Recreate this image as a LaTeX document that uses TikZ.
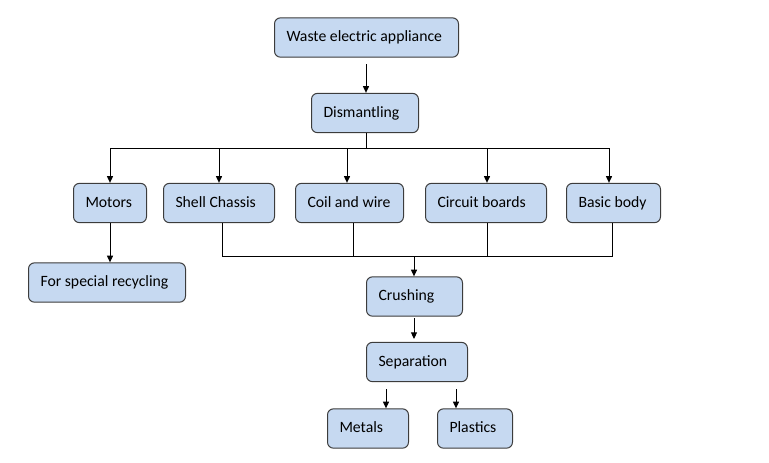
\documentclass[tikz,border=0pt]{standalone}
\usepackage{fontspec}
\setmainfont{Carlito}
\usetikzlibrary{arrows.meta}
\definecolor{boxfill}{HTML}{C6D9F1}
\definecolor{boxline}{HTML}{3C3C3C}
\newcommand\bxtxt[2]{\makebox[#1][l]{#2}}
\tikzset{
  box/.style={draw=boxline, fill=boxfill, line width=0.75pt, rounded corners=4.5pt,
    minimum height=29.5pt, text height=8.6pt, text depth=2.2pt,
    inner xsep=9pt, inner ysep=0pt, anchor=west,
    font=\fontsize{11.8pt}{14pt}\selectfont},
  conn/.style={line width=0.75pt, black},
  arr/.style={conn, -{Triangle[length=5pt,width=4.5pt]}}
}
\begin{document}
\begin{tikzpicture}[x=0.75pt,y=-0.75pt]
\useasboundingbox (0,0) rectangle (769,462);
% boxes
\node[box] (waste) at (274,37.5) {\bxtxt{120pt}{Waste electric appliance}};
\node[box] (dism) at (311,113) {\bxtxt{62.25pt}{Dismantling}};
\node[box] (motors) at (73,203) {\bxtxt{36.75pt}{Motors}};
\node[box] (shell) at (163,203) {\bxtxt{65.25pt}{Shell Chassis}};
\node[box] (coil) at (295,203) {\bxtxt{63pt}{Coil and wire}};
\node[box] (circuit) at (425,203) {\bxtxt{72.75pt}{Circuit boards}};
\node[box] (basic) at (566,203) {\bxtxt{52.5pt}{Basic body}};
\node[box] (special) at (28,282.5) {\bxtxt{99.75pt}{For special recycling}};
\node[box] (crush) at (366,296.5) {\bxtxt{54pt}{Crushing}};
\node[box] (sep) at (366,362) {\bxtxt{57.75pt}{Separation}};
\node[box] (metals) at (327,428.5) {\bxtxt{42.75pt}{Metals}};
\node[box] (plastics) at (437,428.5) {\bxtxt{38.25pt}{Plastics}};
% top arrow
\coordinate (wa) at (366,64);
\draw[arr] (wa) -- (wa |- dism.north);
% distribution bar
\coordinate (dtop) at (366,133);
\coordinate (bar) at (366,148);
\coordinate (bm) at (110,148);
\coordinate (bs) at (219,148);
\coordinate (bc) at (347,148);
\coordinate (bi) at (487,148);
\coordinate (bb) at (609,148);
\draw[conn] (dtop |- dism.south) -- (bar);
\draw[conn] (bm) -- (bb);
\draw[arr] (bm) -- (bm |- motors.north);
\draw[arr] (bs) -- (bs |- shell.north);
\draw[arr] (bc) -- (bc |- coil.north);
\draw[arr] (bi) -- (bi |- circuit.north);
\draw[arr] (bb) -- (bb |- basic.north);
% motors to special
\draw[arr] (bm |- motors.south) -- (bm |- special.north);
% collector bar
\coordinate (cs) at (222,256);
\coordinate (cc) at (353,256);
\coordinate (ci) at (487,256);
\coordinate (cb) at (612,256);
\coordinate (ck) at (414,256);
\draw[conn] (cs |- shell.south) -- (cs) -- (cb) -- (cb |- basic.south);
\draw[conn] (cc |- coil.south) -- (cc);
\draw[conn] (ci |- circuit.south) -- (ci);
\draw[arr] (ck) -- (ck |- crush.north);
% crushing to separation
\coordinate (cr) at (414,318);
\coordinate (crt) at (414,339);
\draw[arr] (cr) -- (crt);
% separation to outputs
\coordinate (sm) at (386,389);
\coordinate (sp) at (456,389);
\draw[arr] (sm) -- (sm |- metals.north);
\draw[arr] (sp) -- (sp |- plastics.north);
\end{tikzpicture}
\end{document}
